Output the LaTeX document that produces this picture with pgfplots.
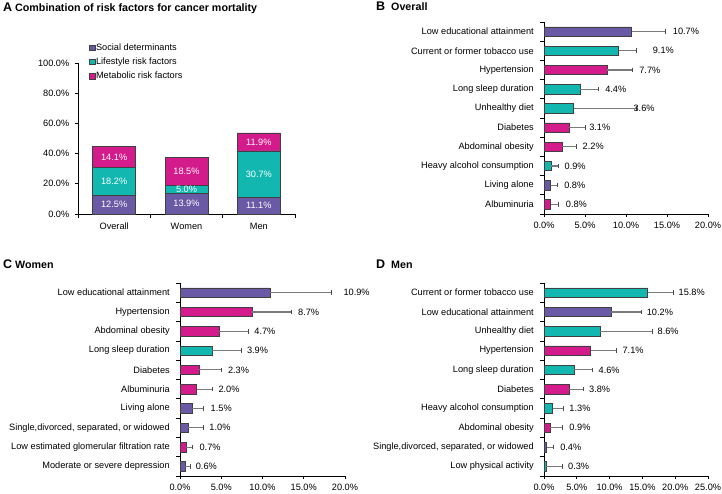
\documentclass[border=0pt]{standalone}
\usepackage{fontspec}
\setmainfont{Liberation Sans}
\usepackage{pgfplots}
\pgfplotsset{compat=1.18}
\definecolor{cP}{HTML}{6A5AA5}
\definecolor{cT}{HTML}{12B8B0}
\definecolor{cM}{HTML}{D41B8B}
\definecolor{edg}{HTML}{404040}
\definecolor{errc}{HTML}{7A7A7A}
\definecolor{capc}{HTML}{4A4A4A}
\pgfplotsset{
  sq legend/.style={legend image code/.code={\draw[##1,line width=0.4pt] (0pt,-2.8pt) rectangle (5.6pt,2.8pt);}},
  hpanel/.style={
    scale only axis,
    axis x line*=bottom, axis y line*=left,
    axis line style={line width=0.8pt, black},
    tick align=outside,
    major tick length=3pt, minor tick length=4pt,
    every tick/.style={black, line width=0.8pt},
    major y tick style={draw=none},
    xmin=0, ymin=0.5, ymax=10.5,
    ytick={1,...,10},
    minor ytick={0.5,1.5,...,10.5},
    yticklabel style={xshift=-4pt},
    xticklabel style={yshift=-2pt},
    clip=false,
  },
  hb/.style={xbar, bar width=9.5pt, bar shift=0pt, fill=#1, draw=edg, line width=0.5pt,
    error bars/.cd, x dir=plus, x explicit, error mark=|,
    error bar style={line width=1.1pt, errc},
    error mark options={line width=0.9pt, capc, mark size=2.3pt}},
  lab/.style={draw=none, mark=none, nodes near coords, point meta=explicit symbolic,
    nodes near coords style={anchor=west, inner sep=0pt, text=black}},
}
\begin{document}
\fontsize{9.2}{11}\selectfont
\begin{tikzpicture}[font=\fontsize{9.2}{11}\selectfont]
\useasboundingbox (0,0) rectangle (722pt,493pt);

% titles
\node[anchor=base west, inner sep=0pt] at (3pt,481pt) {\fontsize{12.5}{14}\selectfont\bfseries A};
\node[anchor=base west, inner sep=0pt] at (15pt,481pt) {\fontsize{10.7}{12}\selectfont\bfseries Combination of risk factors for cancer mortality};
\node[anchor=base west, inner sep=0pt] at (376pt,482pt) {\fontsize{12.5}{14}\selectfont\bfseries B};
\node[anchor=base west, inner sep=0pt] at (391pt,482pt) {\fontsize{10.7}{12}\selectfont\bfseries Overall};
\node[anchor=base west, inner sep=0pt] at (3pt,224pt) {\fontsize{12.5}{14}\selectfont\bfseries C};
\node[anchor=base west, inner sep=0pt] at (15pt,224pt) {\fontsize{10.7}{12}\selectfont\bfseries Women};
\node[anchor=base west, inner sep=0pt] at (376pt,224pt) {\fontsize{12.5}{14}\selectfont\bfseries D};
\node[anchor=base west, inner sep=0pt] at (391pt,224pt) {\fontsize{10.7}{12}\selectfont\bfseries Men};

% ---------- Panel A ----------
\begin{axis}[
  at={(78pt,279pt)}, anchor=south west,
  scale only axis, width=217pt, height=151pt,
  ybar stacked, bar width=43pt,
  xmin=-0.5, xmax=2.5, ymin=0, ymax=100,
  axis x line*=bottom, axis y line*=left,
  axis line style={line width=0.8pt, black},
  tick align=outside, major tick length=3.5pt, minor tick length=4pt,
  every tick/.style={black, line width=0.8pt},
  xtick={0,1,2}, xticklabels={Overall,Women,Men},
  major x tick style={draw=none},
  minor xtick={-0.5,0.5,1.5,2.5},
  ytick={0,20,40,60,80,100},
  yticklabels={0.0\%,20.0\%,40.0\%,60.0\%,80.0\%,100.0\%},
  yticklabel style={xshift=-2pt},
  xticklabel style={yshift=-2pt},
  clip=false,
  legend style={at={(0.05,1.135)}, anchor=north west, draw=none, fill=none,
    inner sep=0pt, row sep=4pt, nodes={inner sep=1pt}},
  legend cell align=left,
]
\addplot[fill=cP, draw=edg, line width=0.5pt, sq legend] coordinates {(0,12.5) (1,13.9) (2,11.1)};
\addplot[fill=cT, draw=edg, line width=0.5pt, sq legend] coordinates {(0,18.2) (1,5.0) (2,30.7)};
\addplot[fill=cM, draw=edg, line width=0.5pt, sq legend] coordinates {(0,14.1) (1,18.5) (2,11.9)};
\legend{Social determinants, Lifestyle risk factors, Metabolic risk factors}
\end{axis}
\begin{axis}[
  at={(78pt,279pt)}, anchor=south west,
  scale only axis, width=217pt, height=151pt,
  xmin=-0.5, xmax=2.5, ymin=0, ymax=100, hide axis, clip=false,
]
\addplot[draw=none, mark=none, nodes near coords, point meta=explicit symbolic,
  nodes near coords style={anchor=center, text=white}]
  coordinates {(0,6.25)[12.5\%] (0,21.6)[18.2\%] (0,37.75)[14.1\%]
               (1,6.95)[13.9\%] (1,16.4)[5.0\%] (1,28.15)[18.5\%]
               (2,5.55)[11.1\%] (2,26.45)[30.7\%] (2,47.75)[11.9\%]};
\end{axis}

% ---------- Panel B ----------
\begin{axis}[hpanel,
  at={(544pt,279pt)}, anchor=south west, width=164pt, height=192pt,
  xmax=20, xtick={0,5,10,15,20},
  xticklabels={0.0\%,5.0\%,10.0\%,15.0\%,20.0\%},
  yticklabels={Albuminuria, Living alone, Heavy alcohol consumption, Abdominal obesity, Diabetes, Unhealthy diet, Long sleep duration, Hypertension, Current or former tobacco use, Low educational attainment},
]
\addplot[hb=cP] coordinates {(10.7,10) +- (4.1,0) (0.8,2) +- (0.8,0)};
\addplot[hb=cT] coordinates {(9.1,9) +- (2.2,0) (4.4,7) +- (2.3,0) (3.6,6) +- (7.7,0) (0.9,3) +- (0.9,0)};
\addplot[hb=cM] coordinates {(7.7,8) +- (3.1,0) (3.1,5) +- (1.9,0) (2.2,4) +- (1.8,0) (0.8,1) +- (1.0,0)};
\addplot[lab] coordinates {(15.7,10)[10.7\%] (13.25,9)[9.1\%] (11.6,8)[7.7\%] (7.45,7)[4.4\%] (10.9,6)[3.6\%] (5.5,5)[3.1\%] (4.7,4)[2.2\%] (2.5,3)[0.9\%] (2.45,2)[0.8\%] (2.65,1)[0.8\%]};
\end{axis}

% ---------- Panel C ----------
\begin{axis}[hpanel,
  at={(180pt,17pt)}, anchor=south west, width=165pt, height=193pt,
  xmax=20, xtick={0,5,10,15,20},
  xticklabels={0.0\%,5.0\%,10.0\%,15.0\%,20.0\%},
  yticklabels={Moderate or severe depression, Low estimated glomerular filtration rate, {Single,divorced, separated, or widowed}, Living alone, Albuminuria, Diabetes, Long sleep duration, Abdominal obesity, Hypertension, Low educational attainment},
]
\addplot[hb=cP] coordinates {(10.9,10) +- (7.4,0) (1.5,4) +- (1.4,0) (1.0,3) +- (1.8,0) (0.6,1) +- (0.7,0)};
\addplot[hb=cT] coordinates {(3.9,7) +- (3.5,0)};
\addplot[hb=cM] coordinates {(8.7,9) +- (4.75,0) (4.7,8) +- (3.6,0) (2.3,6) +- (2.75,0) (2.0,5) +- (1.9,0) (0.7,2) +- (0.8,0)};
\addplot[lab] coordinates {(19.8,10)[10.9\%] (14.3,9)[8.7\%] (9.0,8)[4.7\%] (8.1,7)[3.9\%] (5.8,6)[2.3\%] (4.65,5)[2.0\%] (3.7,4)[1.5\%] (3.55,3)[1.0\%] (2.35,2)[0.7\%] (1.9,1)[0.6\%]};
\end{axis}

% ---------- Panel D ----------
\begin{axis}[hpanel,
  at={(544pt,17pt)}, anchor=south west, width=164pt, height=193pt,
  xmax=25, xtick={0,5,10,15,20,25},
  xticklabels={0.0\%,5.0\%,10.0\%,15.0\%,20.0\%,25.0\%},
  yticklabels={Low physical activity, {Single,divorced, separated, or widowed}, Abdominal obesity, Heavy alcohol consumption, Diabetes, Long sleep duration, Hypertension, Unhealthy diet, Low educational attainment, Current or former tobacco use},
]
\addplot[hb=cP] coordinates {(10.2,9) +- (4.6,0) (0.4,2) +- (1.1,0)};
\addplot[hb=cT] coordinates {(15.8,10) +- (3.9,0) (8.6,8) +- (7.9,0) (4.6,6) +- (2.8,0) (1.3,4) +- (1.65,0) (0.3,1) +- (2.5,0)};
\addplot[hb=cM] coordinates {(7.1,7) +- (4.0,0) (3.8,5) +- (2.2,0) (0.9,3) +- (1.9,0)};
\addplot[lab] coordinates {(20.5,10)[15.8\%] (15.65,9)[10.2\%] (17.3,8)[8.6\%] (11.95,7)[7.1\%] (8.3,6)[4.6\%] (6.85,5)[3.8\%] (3.85,4)[1.3\%] (3.85,3)[0.9\%] (2.45,2)[0.4\%] (3.65,1)[0.3\%]};
\end{axis}
\end{tikzpicture}
\end{document}
